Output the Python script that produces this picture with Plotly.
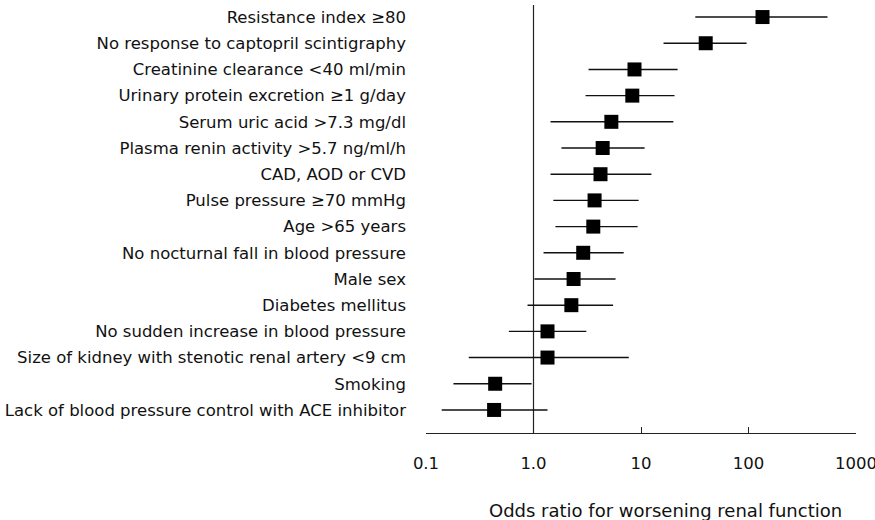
import plotly.graph_objects as go

labels = [
    "Resistance index ≥80",
    "No response to captopril scintigraphy",
    "Creatinine clearance <40 ml/min",
    "Urinary protein excretion ≥1 g/day",
    "Serum uric acid >7.3 mg/dl",
    "Plasma renin activity >5.7 ng/ml/h",
    "CAD, AOD or CVD",
    "Pulse pressure ≥70 mmHg",
    "Age >65 years",
    "No nocturnal fall in blood pressure",
    "Male sex",
    "Diabetes mellitus",
    "No sudden increase in blood pressure",
    "Size of kidney with stenotic renal artery <9 cm",
    "Smoking",
    "Lack of blood pressure control with ACE inhibitor",
]
odds_ratio = [135, 40, 8.7, 8.3, 5.3, 4.4, 4.2, 3.7, 3.6, 2.9, 2.36, 2.25, 1.35, 1.35, 0.44, 0.43]
ci_low = [32, 16.2, 3.25, 3.05, 1.44, 1.82, 1.44, 1.53, 1.6, 1.24, 1.02, 0.88, 0.59, 0.25, 0.18, 0.14]
ci_high = [543, 96, 21.9, 20.5, 20, 10.8, 12.5, 9.5, 9.3, 6.9, 5.8, 5.5, 3.1, 7.7, 0.96, 1.35]
x_tickvals = [0.1, 1, 10, 100, 1000]
x_ticktext = ["0.1", "1.0", "10", "100", "1000"]
x_title = "Odds ratio for worsening renal function"

rows = list(range(len(labels)))

fig = go.Figure()
fig.add_trace(go.Scatter(
    x=odds_ratio, y=rows, mode="markers",
    marker=dict(symbol="square", size=14, color="#000000"),
    error_x=dict(type="data", symmetric=False,
                 array=[h - o for h, o in zip(ci_high, odds_ratio)],
                 arrayminus=[o - l for o, l in zip(odds_ratio, ci_low)],
                 color="#111111", thickness=1.4, width=0),
    showlegend=False, hoverinfo="skip",
))

fig.add_shape(type="line", xref="x", yref="paper", x0=1, x1=1, y0=0, y1=1,
              line=dict(color="#222222", width=1.2), layer="below")

fig.add_annotation(text=x_title, xref="paper", yref="paper", x=0.558, y=-0.18,
                   xanchor="center", yanchor="middle", showarrow=False,
                   font=dict(size=18))

font = dict(family="DejaVu Sans, Liberation Sans, Arial, sans-serif", size=16.5, color="#111111")

fig.update_layout(
    width=875, height=520,
    margin=dict(l=426, r=19, t=5, b=87),
    plot_bgcolor="white", paper_bgcolor="white",
    font=font,
    xaxis=dict(type="log", range=[-1, 3], tickvals=x_tickvals, ticktext=x_ticktext,
               ticks="inside", ticklen=6, tickwidth=1.2, tickcolor="#222222",
               showline=True, linecolor="#222222", linewidth=1.2, mirror=False,
               showgrid=False, zeroline=False, ticklabelstandoff=15,
               ticklabeloverflow="allow", automargin=False),
    yaxis=dict(range=[15.88, -0.46], tickvals=rows, ticktext=labels,
               showgrid=False, zeroline=False, showline=False, ticks="",
               ticklabelstandoff=19, automargin=False),
)

fig.write_html("out.html", config={"displayModeBar": False},
               post_script="document.body.style.margin='0';")
